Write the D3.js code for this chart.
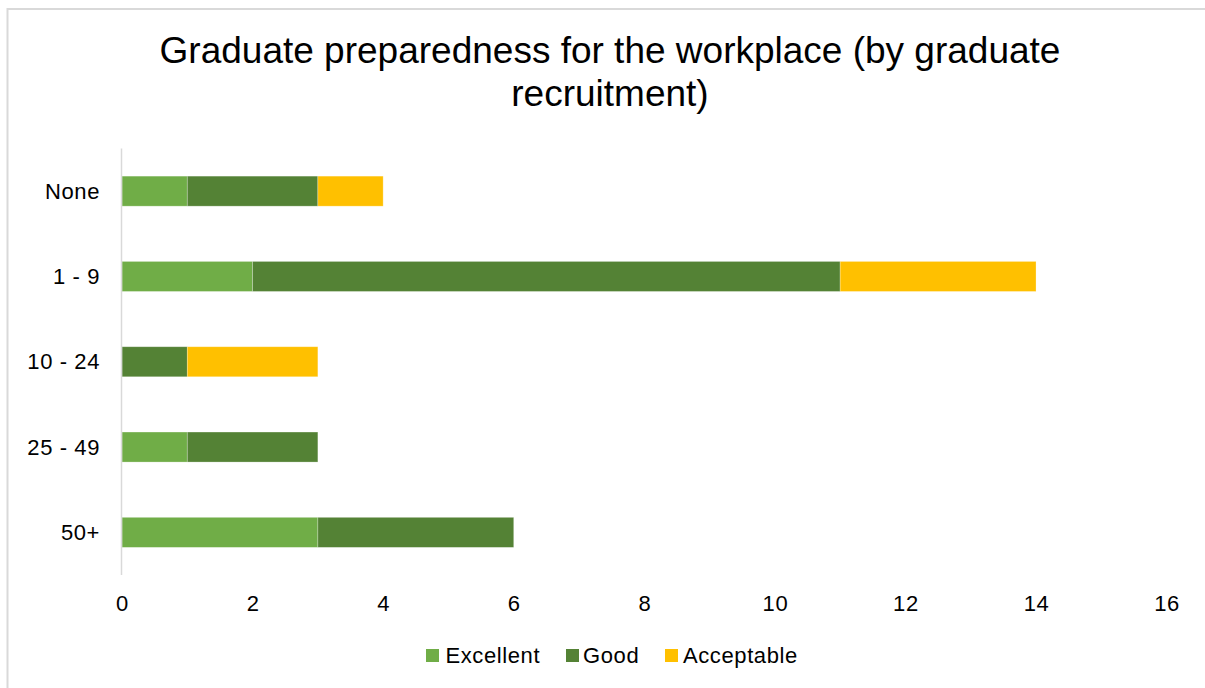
<!DOCTYPE html>
<html>
<head>
<meta charset="utf-8">
<script src="https://cdn.jsdelivr.net/npm/d3@7"></script>
<style>
  html, body { margin: 0; padding: 0; background: #fff; }
  svg { display: block; font-family: "Liberation Sans", Arial, sans-serif; }
</style>
</head>
<body>
<svg id="chart" width="1205" height="688"></svg>
<script>
// Graduate recruitment bands (top to bottom)
const categories = ["None", "1 - 9", "10 - 24", "25 - 49", "50+"];
// Stacked series: number of responses per rating
const seriesNames = ["Excellent", "Good", "Acceptable"];
const excellent  = [1, 2, 0, 1, 3];
const good       = [2, 9, 1, 2, 3];
const acceptable = [1, 3, 2, 0, 0];
const xTicks = [0, 2, 4, 6, 8, 10, 12, 14, 16];
const colors = ["#70ad47", "#548235", "#ffc000"];

const rows = categories.map((c, i) => ({
  category: c,
  Excellent: excellent[i],
  Good: good[i],
  Acceptable: acceptable[i]
}));

const svg = d3.select("#chart");

// Chart frame
svg.append("rect")
  .attr("x", 7.5).attr("y", 9)
  .attr("width", 1210).attr("height", 700)
  .attr("fill", "#fff")
  .attr("stroke", "#d9d9d9").attr("stroke-width", 2);

// Title
const title = svg.append("text")
  .attr("text-anchor", "middle")
  .attr("font-size", 37)
  .attr("fill", "#000");
title.append("tspan").attr("x", 610).attr("y", 63)
  .text("Graduate preparedness for the workplace (by graduate");
title.append("tspan").attr("x", 610).attr("y", 105.5)
  .text("recruitment)");

const x = d3.scaleLinear().domain([0, 16]).range([122, 1166.6]);
const y = d3.scaleBand().domain(categories).range([148.5, 575])
  .paddingInner(0.648).paddingOuter(0.324);

const stacked = d3.stack().keys(seriesNames)(rows);

svg.append("g")
  .selectAll("g.series")
  .data(stacked)
  .join("g")
  .attr("class", "series")
  .attr("fill", (d, i) => colors[i])
  .selectAll("rect")
  .data(d => d)
  .join("rect")
  .attr("x", d => x(d[0]))
  .attr("y", d => y(d.data.category))
  .attr("width", d => x(d[1]) - x(d[0]))
  .attr("height", y.bandwidth())
  .attr("stroke", "#ffffff")
  .attr("stroke-opacity", 0.35)
  .attr("stroke-width", 0.75);

// Vertical category axis line
svg.append("line")
  .attr("x1", 121.5).attr("x2", 121.5)
  .attr("y1", 148.5).attr("y2", 575)
  .attr("stroke", "#d9d9d9").attr("stroke-width", 1.5);

const labelFont = 22;
const spacing = 0.6;

// Category labels
const yAxis = d3.axisLeft(y).tickSize(0).tickPadding(21.5);
const yg = svg.append("g").attr("transform", "translate(121.5,0)").call(yAxis);
yg.select(".domain").remove();
yg.selectAll("text")
  .attr("font-size", labelFont)
  .attr("letter-spacing", spacing)
  .attr("font-family", "Liberation Sans, Arial, sans-serif")
  .attr("fill", "#000")
  .attr("dy", "0.35em");

// Value axis labels
const xAxis = d3.axisBottom(x).tickValues(xTicks).tickSize(0).tickPadding(0)
  .tickFormat(d3.format("d"));
const xg = svg.append("g").attr("transform", "translate(0,575)").call(xAxis);
xg.select(".domain").remove();
xg.selectAll("text")
  .attr("font-size", labelFont)
  .attr("letter-spacing", spacing)
  .attr("font-family", "Liberation Sans, Arial, sans-serif")
  .attr("fill", "#000")
  .attr("y", 36)
  .attr("dy", 0);

// Legend
const markerX = [426, 566, 665];
const textX = [445.5, 583, 683];
const legend = svg.append("g");
seriesNames.forEach((name, i) => {
  legend.append("rect")
    .attr("x", markerX[i]).attr("y", 649)
    .attr("width", 13).attr("height", 13)
    .attr("fill", colors[i]);
  legend.append("text")
    .attr("x", textX[i]).attr("y", 663)
    .attr("font-size", labelFont)
    .attr("letter-spacing", spacing)
    .attr("fill", "#000")
    .text(name);
});
</script>
</body>
</html>
